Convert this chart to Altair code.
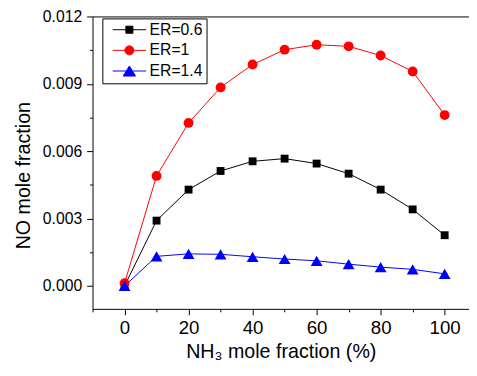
import altair as alt
import pandas as pd

# ---- data ----
nh3 = [0, 10, 20, 30, 40, 50, 60, 70, 80, 90, 100]
er06 = [0.0, 0.00291, 0.00429, 0.00512, 0.00555, 0.00567, 0.00545, 0.00500, 0.00429, 0.00341, 0.00226]
er1 = [0.00012, 0.00490, 0.00726, 0.00884, 0.00986, 0.01052, 0.01074, 0.01067, 0.01026, 0.00955, 0.00761]
er14 = [0.0, 0.00132, 0.00143, 0.00141, 0.00130, 0.00120, 0.00112, 0.00097, 0.00084, 0.00074, 0.00054]

series_names = ["ER=0.6", "ER=1", "ER=1.4"]
colors = ["#000000", "#FF0000", "#0000FF"]
shapes = ["square", "circle", "triangle-up"]
marker_sizes = [64, 100, 144]
legend_paths = [
    "M-1,0L1,0M-0.21,-0.21L0.21,-0.21L0.21,0.21L-0.21,0.21Z",
    "M-1,0L1,0M-0.27,0A0.27,0.27 0 1,0 0.27,0A0.27,0.27 0 1,0 -0.27,0Z",
    "M-1,0L1,0M0,-0.3L0.37,0.3L-0.37,0.3Z",
]

x_major = [0, 20, 40, 60, 80, 100]
x_minor = [-10, 10, 30, 50, 70, 90]
y_major = [0.0, 0.003, 0.006, 0.009, 0.012]
y_minor = [0.0015, 0.0045, 0.0075, 0.0105]

rows = []
for name, vals in zip(series_names, [er06, er1, er14]):
    for xv, yv in zip(nh3, vals):
        rows.append({"nh3": xv, "no": yv, "series": name})
df = pd.DataFrame(rows)

FONT = "Liberation Sans"
xscale = alt.Scale(domain=[-10, 107.6], nice=False, zero=False)
yscale = alt.Scale(domain=[-0.00102, 0.012], nice=False, zero=False)

base = alt.Chart(df)

# main axes (carried by an invisible layer)
main_axes = base.mark_point(opacity=0).encode(
    x=alt.X("nh3:Q", scale=xscale,
            axis=alt.Axis(orient="bottom", values=x_major, format="d", tickSize=6,
                          labelFontSize=19, labelPadding=4,
                          title="NH₃ mole fraction (%)", titleFontSize=20,
                          titlePadding=4.5, titleFontWeight="normal")),
    y=alt.Y("no:Q", scale=yscale,
            axis=alt.Axis(orient="left", values=y_major, format=".3f", tickSize=6,
                          labelFontSize=16, labelPadding=5,
                          title="NO mole fraction", titleFontSize=20,
                          titleX=-60, titleY=161.5, titleAngle=270,
                          titleBaseline="bottom", titleAlign="center",
                          titleFontWeight="normal")),
)

minor_axes = base.mark_point(opacity=0).encode(
    x=alt.X("nh3:Q", scale=xscale,
            axis=alt.Axis(orient="bottom", values=x_minor, tickSize=3, labels=False,
                          domain=False, title=None)),
    y=alt.Y("no:Q", scale=yscale,
            axis=alt.Axis(orient="left", values=y_minor, tickSize=3, labels=False,
                          domain=False, title=None)),
)

series_layers = []
for name, col, shp, sz in zip(series_names, colors, shapes, marker_sizes):
    sub = base.transform_filter(alt.datum.series == name)
    enc = dict(x=alt.X("nh3:Q", scale=xscale, axis=None),
               y=alt.Y("no:Q", scale=yscale, axis=None))
    series_layers.append(sub.mark_line(strokeWidth=1, color=col).encode(**enc))
for name, col, shp, sz in zip(series_names, colors, shapes, marker_sizes):
    sub = base.transform_filter(alt.datum.series == name)
    enc = dict(x=alt.X("nh3:Q", scale=xscale, axis=None),
               y=alt.Y("no:Q", scale=yscale, axis=None))
    series_layers.append(sub.mark_point(filled=True, opacity=1, shape=shp, size=sz,
                                        color=col).encode(**enc))

leg = alt.Legend(orient="none", legendX=10, legendY=2, title=None,
                 strokeColor="black", fillColor="white", padding=4,
                 symbolSize=1156, symbolStrokeWidth=1, symbolOffset=6,
                 labelOffset=3, labelFontSize=16, labelFont=FONT, labelColor="black",
                 clipHeight=15, rowPadding=4, symbolOpacity=1)

legend_layer = base.transform_filter(alt.datum.nh3 < -1000).mark_point(
    filled=True, strokeWidth=1, opacity=1).encode(
    x=alt.X("nh3:Q", scale=xscale,
            axis=alt.Axis(orient="top", labels=False, ticks=False, title=None, domain=True)),
    y=alt.Y("no:Q", scale=yscale, axis=None),
    fill=alt.Fill("series:N", scale=alt.Scale(domain=series_names, range=colors), legend=leg),
    stroke=alt.Stroke("series:N", scale=alt.Scale(domain=series_names, range=colors), legend=leg),
    shape=alt.Shape("series:N", scale=alt.Scale(domain=series_names, range=legend_paths), legend=leg),
)

chart = alt.layer(main_axes, minor_axes, *series_layers, legend_layer).resolve_axis(
    x="independent", y="independent"
).properties(
    width=383, height=297.5,
    autosize=alt.AutoSizeParams(type="none"),
    padding={"left": 86, "top": 5.5, "right": 0, "bottom": 54},
).configure_view(
    stroke=None
).configure_axis(
    grid=False, labelFont=FONT, titleFont=FONT, domainColor="black",
    tickColor="black", labelColor="black", titleColor="black", domainWidth=1, tickWidth=1,
)

chart.save("out.html", embed_options={"renderer": "svg", "actions": False})
